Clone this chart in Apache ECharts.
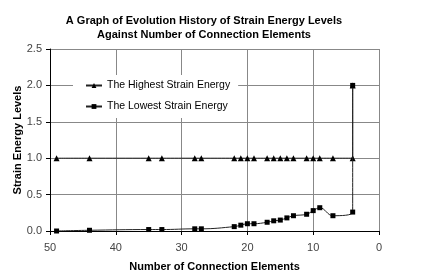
<!DOCTYPE html>
<html><head><meta charset="utf-8">
<script src="https://cdn.jsdelivr.net/npm/echarts@6/dist/echarts.min.js"></script>
<style>html,body{margin:0;padding:0;background:#fff}#c{width:431px;height:277px}</style>
</head><body><div id="c"></div>
<script>
var connections = [49,44,35,33,28,27,22,21,20,19,17,16,15,14,13,11,10,9,7,4,4];
var highest = [1,1,1,1,1,1,1,1,1,1,1,1,1,1,1,1,1,1,1,1,2.0];
var lowest = [0.0,0.01,0.02,0.02,0.03,0.03,0.06,0.08,0.10,0.10,0.12,0.14,0.15,0.18,0.21,0.23,0.28,0.32,0.21,0.26,2.0];
var titleLines = ['A Graph of Evolution History of Strain Energy Levels','Against Number of Connection Elements'];
var xTitle = 'Number of Connection Elements';
var yTitle = 'Strain Energy Levels';
var seriesNames = ['The Highest Strain Energy','The Lowest Strain Energy'];

function pairs(xs, ys){ return xs.map(function(x,i){return [x, ys[i]];}); }
var font = 'Liberation Sans, Arial, sans-serif';
var chart = echarts.init(document.getElementById('c'));
chart.setOption({
  animation:false,
  backgroundColor:'#fff',
  title:{text:titleLines.join('\n'), left:199, textAlign:'center', top:9,
    textStyle:{fontFamily:font, fontSize:11, fontWeight:'bold', color:'#000', lineHeight:14}},
  grid:{left:50, right:52, top:49, bottom:46, containLabel:false, outerBoundsMode:'none'},
  legend:{left:73, top:75, orient:'vertical', itemGap:10, itemWidth:16, itemHeight:6,
    backgroundColor:'#fff', padding:[5,8,6,12],
    textStyle:{fontFamily:font, fontSize:10.5, color:'#000'},
    data:seriesNames},
  xAxis:{type:'value', inverse:true, min:0, max:50, interval:10,
    name:xTitle, nameLocation:'middle', nameGap:30, nameMoveOverlap:false,
    nameTextStyle:{fontFamily:font, fontSize:11, fontWeight:'bold', color:'#000'},
    axisLine:{show:true, onZero:false, lineStyle:{color:'#000', width:1}},
    axisTick:{show:true, length:4, lineStyle:{color:'#000'}},
    axisLabel:{fontFamily:font, fontSize:11, color:'#444', margin:11},
    splitLine:{show:true, lineStyle:{color:'#888', width:1}}},
  yAxis:{type:'value', min:0, max:2.5, interval:0.5,
    name:yTitle, nameLocation:'middle', nameGap:27, nameRotate:90, nameMoveOverlap:false,
    nameTextStyle:{fontFamily:font, fontSize:11, fontWeight:'bold', color:'#000'},
    axisLine:{show:true, onZero:false, lineStyle:{color:'#000', width:1}},
    axisTick:{show:true, length:4, lineStyle:{color:'#000'}},
    axisLabel:{fontFamily:font, fontSize:11, color:'#444', margin:8, formatter:function(v){return v.toFixed(1);}},
    splitLine:{show:true, lineStyle:{color:'#888', width:1}}},
  series:[
    {name:seriesNames[0], type:'line', data:pairs(connections, highest), smooth:0.4,
      symbol:'triangle', symbolSize:6, lineStyle:{color:'#222', width:1}, itemStyle:{color:'#000'}, z:3},
    {name:seriesNames[1], type:'line', data:pairs(connections, lowest), smooth:0.4,
      symbol:'rect', symbolSize:5, lineStyle:{color:'#222', width:1}, itemStyle:{color:'#000'}, z:4}
  ]
});
</script></body></html>
